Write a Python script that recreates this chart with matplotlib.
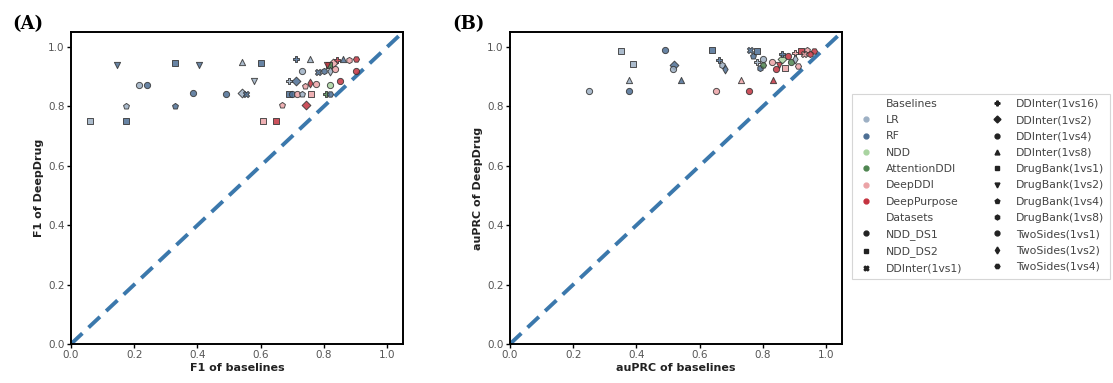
import matplotlib
matplotlib.use('Agg')
import matplotlib.pyplot as plt
from matplotlib.lines import Line2D

# 颜色 / 形状
baselines = ['LR', 'RF', 'NDD', 'AttentionDDI', 'DeepDDI', 'DeepPurpose']
baseline_colors = ['#9db0c4', '#4d6f94', '#a9d4a0', '#4e8550', '#eba3a6', '#c4323f']
datasets = ['NDD_DS1', 'NDD_DS2', 'DDInter(1vs1)', 'DDInter(1vs16)', 'DDInter(1vs2)',
            'DDInter(1vs4)', 'DDInter(1vs8)', 'DrugBank(1vs1)', 'DrugBank(1vs2)',
            'DrugBank(1vs4)', 'DrugBank(1vs8)', 'TwoSides(1vs1)', 'TwoSides(1vs2)',
            'TwoSides(1vs4)']
dataset_markers = ['o', 's', 'X', 'P', 'D', 'o', '^', 's', 'v', 'p', 'h', 'o', 'd', 'H']

# 面板 A: F1
f1_base = ['RF', 'RF', 'RF', 'LR', 'RF', 'LR', 'LR', 'RF', 'RF', 'RF', 'LR', 'RF',
           'LR', 'RF', 'LR', 'RF', 'DeepDDI', 'DeepPurpose', 'RF', 'LR',
           'DeepPurpose', 'RF', 'DeepDDI', 'DeepPurpose', 'DeepDDI', 'AttentionDDI',
           'LR', 'RF', 'RF', 'LR', 'DeepPurpose', 'DeepDDI', 'DeepPurpose',
           'LR', 'RF', 'DeepDDI', 'DeepPurpose', 'DeepDDI', 'NDD', 'DeepPurpose',
           'RF', 'RF', 'DeepDDI', 'LR', 'DeepDDI', 'AttentionDDI', 'RF',
           'DeepDDI', 'DeepPurpose']
f1_data = ['DrugBank(1vs2)', 'DrugBank(1vs1)', 'DrugBank(1vs2)', 'DDInter(1vs8)',
           'DrugBank(1vs1)', 'DrugBank(1vs2)', 'TwoSides(1vs1)', 'TwoSides(1vs1)',
           'DDInter(1vs4)', 'NDD_DS1', 'DDInter(1vs2)', 'DDInter(1vs1)',
           'DrugBank(1vs4)', 'DrugBank(1vs4)', 'NDD_DS2', 'NDD_DS2', 'NDD_DS2', 'NDD_DS2',
           'DDInter(1vs16)', 'DDInter(1vs8)',
           'DDInter(1vs16)', 'DDInter(1vs8)', 'DrugBank(1vs8)', 'TwoSides(1vs4)',
           'DDInter(1vs2)', 'DrugBank(1vs1)',
           'TwoSides(1vs1)', 'DDInter(1vs1)', 'DrugBank(1vs8)', 'TwoSides(1vs2)',
           'DrugBank(1vs2)', 'DDInter(1vs4)', 'TwoSides(1vs1)',
           'DDInter(1vs16)', 'DDInter(1vs2)', 'DrugBank(1vs4)', 'TwoSides(1vs2)',
           'DDInter(1vs4)', 'TwoSides(1vs1)', 'NDD_DS1',
           'DrugBank(1vs1)', 'NDD_DS1', 'DDInter(1vs4)', 'DrugBank(1vs4)',
           'DrugBank(1vs1)', 'DDInter(1vs16)', 'TwoSides(1vs4)',
           'DrugBank(1vs4)', 'DDInter(1vs2)']
f1_x = [0.145, 0.33, 0.405, 0.54, 0.60, 0.58, 0.214, 0.24, 0.385, 0.49, 0.54, 0.555,
        0.173, 0.33, 0.06, 0.175, 0.607, 0.648, 0.71, 0.755,
        0.84, 0.86, 0.88, 0.90, 0.83, 0.815,
        0.73, 0.78, 0.80, 0.82, 0.81, 0.835, 0.90,
        0.69, 0.71, 0.74, 0.755, 0.775, 0.82, 0.85,
        0.69, 0.70, 0.715, 0.73, 0.76, 0.805, 0.82,
        0.667, 0.742]
f1_y = [0.94, 0.945, 0.94, 0.95, 0.945, 0.885, 0.873, 0.873, 0.846, 0.843, 0.845, 0.843,
        0.80, 0.80, 0.75, 0.75, 0.75, 0.75, 0.96, 0.96,
        0.955, 0.96, 0.955, 0.96, 0.945, 0.94,
        0.92, 0.915, 0.92, 0.92, 0.94, 0.925, 0.92,
        0.885, 0.885, 0.87, 0.88, 0.875, 0.873, 0.885,
        0.843, 0.843, 0.843, 0.843, 0.843, 0.843, 0.843,
        0.805, 0.805]

# 面板 B: auPRC
prc_base = ['LR', 'RF', 'RF', 'RF', 'LR', 'RF', 'LR', 'RF', 'LR', 'RF',
            'LR', 'RF', 'DeepDDI', 'DeepPurpose', 'LR', 'RF', 'DeepDDI', 'DeepPurpose',
            'RF', 'LR', 'RF', 'LR', 'RF', 'AttentionDDI',
            'DeepDDI', 'DeepPurpose', 'DeepDDI', 'DeepPurpose', 'DeepDDI', 'DeepPurpose',
            'DeepDDI', 'DeepPurpose', 'NDD', 'AttentionDDI', 'RF', 'LR', 'DeepDDI',
            'DeepPurpose', 'DeepPurpose', 'DeepDDI']
prc_data = ['NDD_DS2', 'NDD_DS1', 'DrugBank(1vs1)', 'DDInter(1vs1)', 'DrugBank(1vs1)',
            'DDInter(1vs2)', 'DDInter(1vs4)', 'DDInter(1vs16)', 'DrugBank(1vs8)',
            'TwoSides(1vs2)',
            'DDInter(1vs8)', 'DDInter(1vs8)', 'DDInter(1vs8)', 'DDInter(1vs8)',
            'TwoSides(1vs1)', 'TwoSides(1vs1)', 'TwoSides(1vs1)', 'TwoSides(1vs1)',
            'DrugBank(1vs4)', 'DDInter(1vs16)', 'DrugBank(1vs8)', 'NDD_DS1', 'NDD_DS2',
            'TwoSides(1vs4)',
            'DDInter(1vs4)', 'DrugBank(1vs2)', 'DrugBank(1vs1)', 'NDD_DS1',
            'DDInter(1vs16)', 'NDD_DS2', 'DrugBank(1vs4)', 'TwoSides(1vs4)',
            'DDInter(1vs2)', 'NDD_DS1', 'DDInter(1vs16)', 'TwoSides(1vs2)',
            'DDInter(1vs1)', 'DrugBank(1vs8)', 'DDInter(1vs4)', 'TwoSides(1vs4)']
prc_x = [0.35, 0.49, 0.64, 0.76, 0.39, 0.52, 0.515, 0.66, 0.67, 0.68,
         0.375, 0.54, 0.73, 0.833, 0.25, 0.377, 0.65, 0.757,
         0.77, 0.78, 0.79, 0.80, 0.78, 0.80,
         0.83, 0.85, 0.87, 0.88, 0.90, 0.92, 0.94, 0.96,
         0.86, 0.89, 0.86, 0.90, 0.93, 0.95, 0.84, 0.91]
prc_y = [0.987, 0.99, 0.99, 0.99, 0.943, 0.94, 0.925, 0.955, 0.94, 0.925,
         0.89, 0.89, 0.89, 0.89, 0.85, 0.85, 0.85, 0.85,
         0.97, 0.95, 0.93, 0.96, 0.985, 0.94,
         0.95, 0.94, 0.93, 0.97, 0.98, 0.985, 0.99, 0.985,
         0.96, 0.95, 0.975, 0.96, 0.975, 0.975, 0.925, 0.935]

fig = plt.figure(figsize=(11.13, 3.83), dpi=100)
ax1 = fig.add_axes([0.0638, 0.1018, 0.2983, 0.8146])
ax2 = fig.add_axes([0.4582, 0.1018, 0.2983, 0.8146])


def draw(ax, base, data, xs, ys, xlabel, ylabel):
    for b, d, x, y in zip(base, data, xs, ys):
        ax.scatter(x, y, s=20, c=baseline_colors[baselines.index(b)],
                   marker=dataset_markers[datasets.index(d)],
                   edgecolors='#333333', linewidths=0.7, alpha=0.85, zorder=3)
    ax.plot([0, 1.05], [0, 1.05], '--', color='#3b78ac', lw=2.8, dashes=(4, 2.2), zorder=2)
    ax.set_xlim(0, 1.05)
    ax.set_ylim(0, 1.05)
    ax.set_xticks([0, 0.2, 0.4, 0.6, 0.8, 1.0])
    ax.set_yticks([0, 0.2, 0.4, 0.6, 0.8, 1.0])
    ax.tick_params(labelsize=7.5, labelcolor='#555555', length=3, width=1, pad=1.5)
    ax.set_xlabel(xlabel, fontsize=8, fontweight='bold', labelpad=2, color='#222222')
    ax.set_ylabel(ylabel, fontsize=8, fontweight='bold', labelpad=3, color='#222222')
    for sp in ax.spines.values():
        sp.set_linewidth(1.4)


draw(ax1, f1_base, f1_data, f1_x, f1_y, 'F1 of baselines', 'F1 of DeepDrug')
draw(ax2, prc_base, prc_data, prc_x, prc_y, 'auPRC of baselines', 'auPRC of DeepDrug')

fig.text(0.011, 0.925, '(A)', fontsize=13, fontweight='bold', family='DejaVu Serif')
fig.text(0.406, 0.925, '(B)', fontsize=13, fontweight='bold', family='DejaVu Serif')

# 图例
handles = [Line2D([], [], ls='', marker='')]
labels = ['Baselines']
for b, c in zip(baselines, baseline_colors):
    handles.append(Line2D([], [], ls='', marker='o', markersize=3.5, color=c))
    labels.append(b)
handles.append(Line2D([], [], ls='', marker=''))
labels.append('Datasets')
for d, m in zip(datasets, dataset_markers):
    handles.append(Line2D([], [], ls='', marker=m, markersize=3.5, color='#222222'))
    labels.append(d)

leg = fig.legend(handles, labels, loc='upper left', bbox_to_anchor=(0.7605, 0.77),
                 ncol=2, fontsize=7.8, frameon=True, fancybox=False, handletextpad=1.0,
                 columnspacing=2.4, labelspacing=0.58, borderpad=0.5, handlelength=1.6)
leg.get_frame().set_edgecolor('#cccccc')
leg.get_frame().set_linewidth(0.8)
for t in leg.get_texts():
    t.set_color('#444444')

fig.savefig('out.png', dpi=100)
